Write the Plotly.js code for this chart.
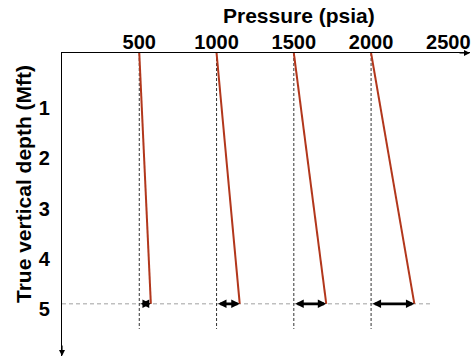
<!DOCTYPE html>
<html>
<head>
<meta charset="utf-8">
<script src="https://cdn.plot.ly/plotly-3.0.1.min.js"></script>
<style>html,body{margin:0;padding:0;background:#fff;}#chart{width:471px;height:361px;}</style>
</head>
<body>
<div id="chart"></div>
<script>
// Data
const surfacePressure = [500, 1000, 1500, 2000];   // psia at depth 0
const bottomPressure = [575, 1150, 1710, 2280];    // psia at depth 5 Mft
const depthTop = 0;
const depthBottom = 5;
const guideBottom = 5.5;
const xTickVals = [500, 1000, 1500, 2000, 2500];
const yTickVals = [1, 2, 3, 4, 5];

const traces = [];
traces.push({
  x: [0, 2400], y: [depthBottom, depthBottom], mode: 'lines',
  line: {color: '#a0a0a0', width: 1, dash: '4px,3px'}, hoverinfo: 'skip', showlegend: false
});
surfacePressure.forEach(p => {
  traces.push({
    x: [p, p], y: [depthTop, guideBottom], mode: 'lines',
    line: {color: '#333333', width: 1, dash: '3px,2px'}, hoverinfo: 'skip', showlegend: false
  });
});
surfacePressure.forEach((p, i) => {
  traces.push({
    x: [p, bottomPressure[i]], y: [depthTop, depthBottom], mode: 'lines',
    line: {color: '#b2371c', width: 2}, hoverinfo: 'skip', showlegend: false
  });
});

const annotations = surfacePressure.map((p, i) => ({
  x: bottomPressure[i], y: depthBottom, ax: p, ay: depthBottom,
  xref: 'x', yref: 'y', axref: 'x', ayref: 'y',
  text: '', showarrow: true, arrowhead: 2, arrowside: 'end+start',
  arrowsize: 0.65, arrowwidth: 2.6, arrowcolor: '#000', standoff: 0, startstandoff: 0
}));
annotations.push({
  xref: 'paper', yref: 'paper', x: 1, y: 1, ax: -12, ay: 0,
  text: '', showarrow: true, arrowhead: 2, arrowsize: 1, arrowwidth: 1.2, arrowcolor: '#000', standoff: 0
});
annotations.push({
  xref: 'paper', yref: 'paper', x: 0, y: 0, ax: 0, ay: -12,
  text: '', showarrow: true, arrowhead: 2, arrowsize: 1, arrowwidth: 1.2, arrowcolor: '#000', standoff: 0
});
annotations.push({
  xref: 'paper', yref: 'paper', x: (299 - 62) / 408, y: 1 + (53 - 16) / 303,
  xanchor: 'center', yanchor: 'middle', showarrow: false,
  text: '<b>Pressure (psia)</b>', font: {size: 21, family: 'Liberation Sans, Arial, sans-serif'}
});
annotations.push({
  xref: 'paper', yref: 'paper', x: (23 - 62) / 408, y: (356 - 184) / 303,
  xanchor: 'center', yanchor: 'middle', showarrow: false, textangle: -90,
  text: '<b>True vertical depth (Mft)</b>', font: {size: 21, family: 'Liberation Sans Narrow, Arial Narrow, sans-serif'}
});

const tickFont = {size: 20, family: 'Liberation Sans, Arial, sans-serif', weight: 'bold', color: '#000'};
const layout = {
  width: 471, height: 361,
  margin: {l: 62, r: 1, t: 53, b: 5},
  paper_bgcolor: '#fff', plot_bgcolor: '#fff',
  font: {family: 'Liberation Sans, Arial, sans-serif', color: '#000'},
  xaxis: {
    side: 'top', range: [0, 2640], tickvals: xTickVals, ticktext: xTickVals.map(String),
    showgrid: false, zeroline: false, showline: true, linecolor: '#000', linewidth: 1.2,
    ticks: '', ticklen: 0, ticklabelstandoff: -5, tickfont: tickFont
  },
  yaxis: {
    range: [6.04, 0], tickvals: yTickVals, ticktext: yTickVals.map(String),
    showgrid: false, zeroline: false, showline: true, linecolor: '#000', linewidth: 1.2,
    ticks: '', ticklen: 0, ticklabelstandoff: 7, ticklabelshift: -5, tickfont: tickFont
  },
  annotations: annotations,
  showlegend: false
};

Plotly.newPlot('chart', traces, layout, {displayModeBar: false, staticPlot: true});
</script>
</body>
</html>
